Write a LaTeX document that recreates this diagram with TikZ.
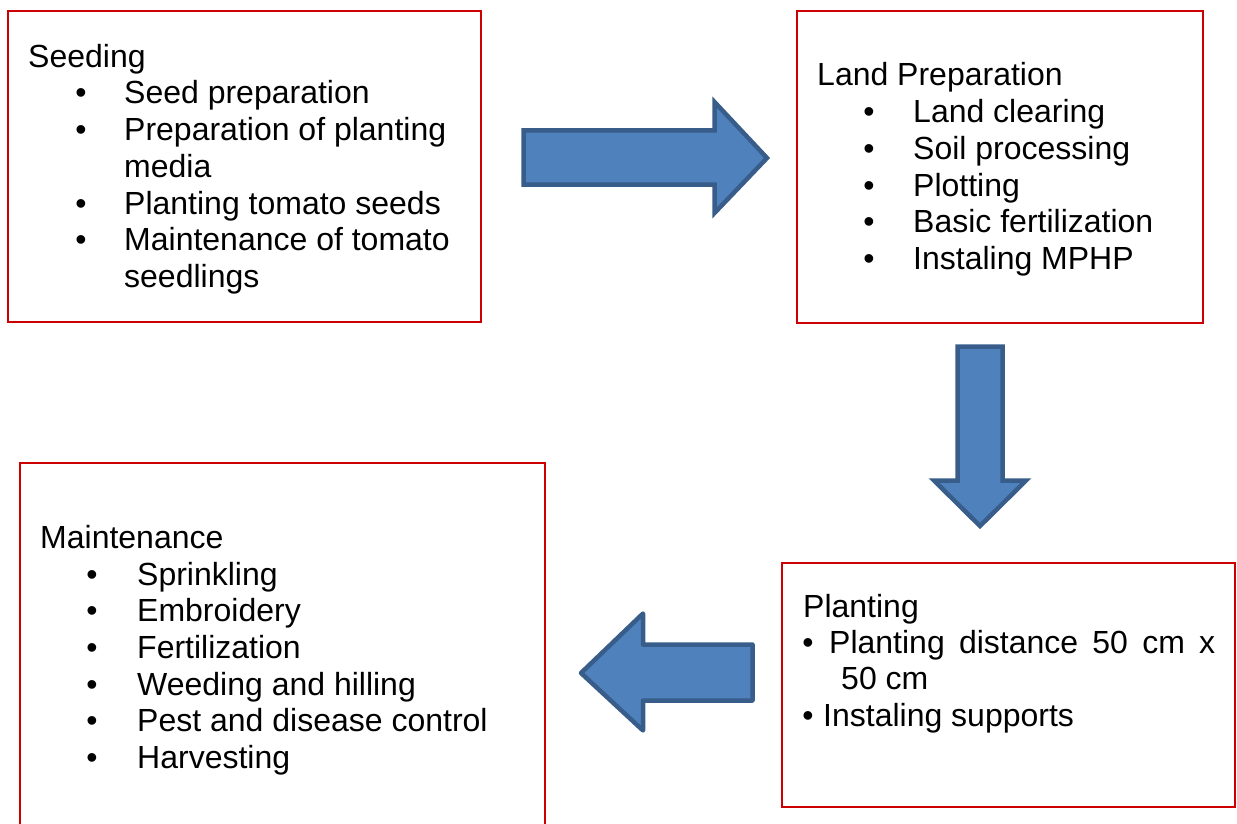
\documentclass[tikz,border=0pt]{standalone}
\usepackage{fontspec}
\setmainfont{Liberation Sans}
\definecolor{boxred}{RGB}{204,0,0}
\definecolor{arrowfill}{HTML}{4F81BD}
\definecolor{arrowdraw}{HTML}{385D8A}
\newcommand\diagfont{\fontsize{32pt}{36.7pt}\selectfont}
\begin{document}
\begin{tikzpicture}[x=1pt,y=-1pt,
  box/.style={draw=boxred, line width=2pt, rectangle, anchor=north west, inner sep=0pt, outer sep=0pt},
  ttl/.style={anchor=base west, inner sep=0pt, font=\diagfont},
  bul/.style={anchor=base, inner sep=0pt, font=\diagfont},
  blockarrow/.style={fill=arrowfill, draw=arrowdraw, line width=4.5pt, line join=miter}]
\useasboundingbox (0,0) rectangle (1237,824);
\clip (0,0) rectangle (1237,824);

% boxes
\node[box, minimum width=473pt, minimum height=311pt] (seeding) at (8,11) {};
\node[box, minimum width=406pt, minimum height=312pt] (landprep) at (797,11) {};
\node[box, minimum width=453pt, minimum height=244pt] (planting) at (782,563) {};
\node[box, minimum width=525pt, minimum height=400pt] (maint) at (20,463) {};

% Seeding text
\node[ttl] (s0) at (28,67.5) {Seeding};
\node[bul] (sb1) at (81,104) {•};
\node[ttl] (s1) at (124,104) {Seed preparation};
\node[bul] (sb2) at (81,140.7) {•};
\node[ttl] (s2) at (124,140.7) {Preparation of planting};
\node[ttl] (s3) at (124,177.4) {media};
\node[bul] (sb4) at (81,214.1) {•};
\node[ttl] (s4) at (124,214.1) {Planting tomato seeds};
\node[bul] (sb5) at (81,250.8) {•};
\node[ttl] (s5) at (124,250.8) {Maintenance of tomato};
\node[ttl] (s6) at (124,287.5) {seedlings};

% Land preparation text
\node[ttl] (l0) at (817,86) {Land Preparation};
\node[bul] (lb1) at (869,122.6) {•};
\node[ttl] (l1) at (913,122.6) {Land clearing};
\node[bul] (lb2) at (869,159.3) {•};
\node[ttl] (l2) at (913,159.3) {Soil processing};
\node[bul] (lb3) at (869,196) {•};
\node[ttl] (l3) at (913,196) {Plotting};
\node[bul] (lb4) at (869,232.7) {•};
\node[ttl] (l4) at (913,232.7) {Basic fertilization};
\node[bul] (lb5) at (869,269.4) {•};
\node[ttl] (l5) at (913,269.4) {Instaling MPHP};

% Planting text
\node[ttl] (p0) at (803,617) {Planting};
\node[bul] (pb1) at (808,653) {•};
\node[ttl] (p1) at (829,653) {\hbox to 386pt{Planting\hfill distance\hfill 50\hfill cm\hfill x}};
\node[ttl] (p2) at (841,689.5) {50 cm};
\node[bul] (pb3) at (808,726) {•};
\node[ttl] (p3) at (823,726) {Instaling supports};

% Maintenance text
\node[ttl] (m0) at (40,548.3) {Maintenance};
\node[bul] (mb1) at (92,585) {•};
\node[ttl] (m1) at (137,585) {Sprinkling};
\node[bul] (mb2) at (92,621.7) {•};
\node[ttl] (m2) at (137,621.7) {Embroidery};
\node[bul] (mb3) at (92,658.4) {•};
\node[ttl] (m3) at (137,658.4) {Fertilization};
\node[bul] (mb4) at (92,695.1) {•};
\node[ttl] (m4) at (137,695.1) {Weeding and hilling};
\node[bul] (mb5) at (92,731.8) {•};
\node[ttl] (m5) at (137,731.8) {Pest and disease control};
\node[bul] (mb6) at (92,768.5) {•};
\node[ttl] (m6) at (137,768.5) {Harvesting};

% block arrows
\draw[blockarrow] (523.5,130.5) -- (714.5,130.5) -- (714.5,102) -- (767,158) -- (714.5,213) -- (714.5,184.5) -- (523.5,184.5) -- cycle;
\draw[blockarrow] (957.5,346.5) -- (1002.5,346.5) -- (1002.5,480.5) -- (1026,480.5) -- (980,526) -- (934,480.5) -- (957.5,480.5) -- cycle;
\draw[blockarrow, line join=round] (581,673) -- (643,613.5) -- (643,644.5) -- (752.5,644.5) -- (752.5,700.5) -- (643,700.5) -- (643,730.5) -- cycle;
\end{tikzpicture}
\end{document}
